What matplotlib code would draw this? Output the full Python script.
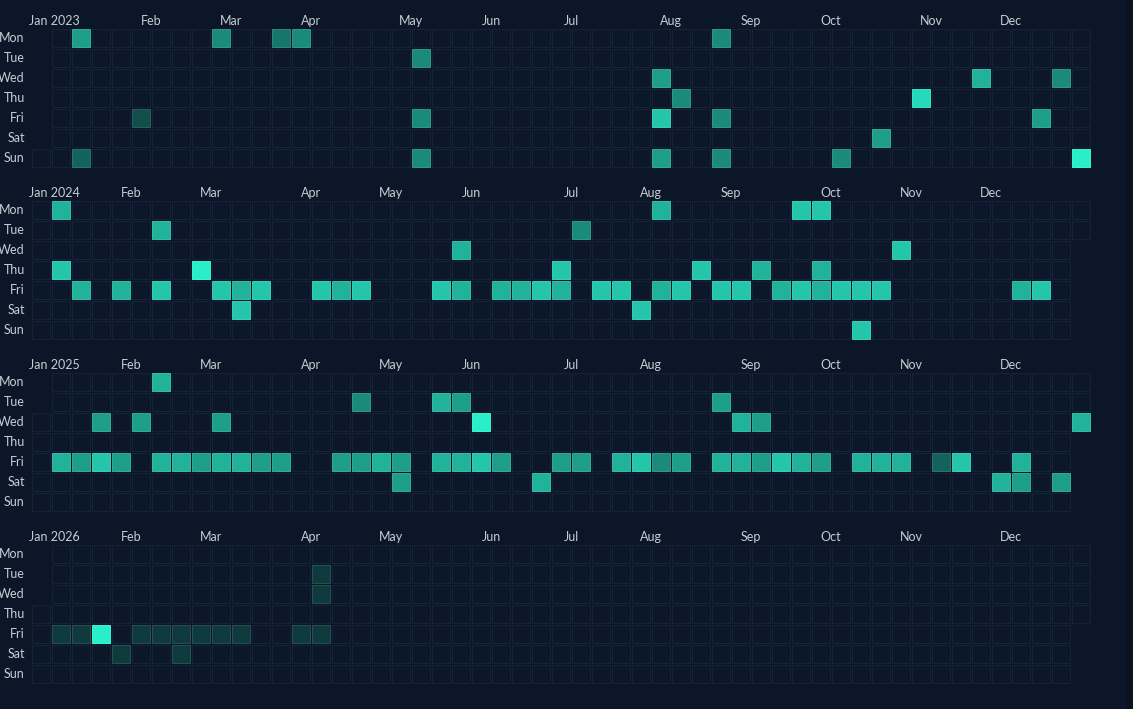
import numpy as np
import pandas as pd
import matplotlib
matplotlib.use("Agg")
import matplotlib.pyplot as plt
from matplotlib.patches import Rectangle
from matplotlib.colors import LinearSegmentedColormap

years = [2023, 2024, 2025, 2026]
day_names = ["Mon", "Tue", "Wed", "Thu", "Fri", "Sat", "Sun"]
month_names = ["Jan", "Feb", "Mar", "Apr", "May", "Jun",
               "Jul", "Aug", "Sep", "Oct", "Nov", "Dec"]

dates_2023 = ["2023-01-09", "2023-01-15", "2023-02-03", "2023-02-27", "2023-03-20",
              "2023-03-27", "2023-05-09", "2023-05-12", "2023-05-14", "2023-08-02",
              "2023-08-04", "2023-08-06", "2023-08-10", "2023-08-21", "2023-08-25",
              "2023-08-27", "2023-10-08", "2023-10-21", "2023-11-02", "2023-11-22",
              "2023-12-15", "2023-12-20", "2023-12-31"]
values_2023 = [6, 3, 2, 5, 4, 5, 5, 5, 5, 6, 8, 6, 5, 5, 5, 5, 5, 6, 9, 7, 6, 5, 10]

dates_2024 = ["2024-01-08", "2024-01-11", "2024-01-19", "2024-02-02", "2024-02-13",
              "2024-02-16", "2024-02-29", "2024-03-08", "2024-03-15", "2024-03-16",
              "2024-03-22", "2024-04-12", "2024-04-19", "2024-04-26", "2024-05-24",
              "2024-05-29", "2024-05-31", "2024-06-14", "2024-06-21", "2024-06-28",
              "2024-07-04", "2024-07-05", "2024-07-09", "2024-07-19", "2024-07-26",
              "2024-08-03", "2024-08-05", "2024-08-09", "2024-08-16", "2024-08-22",
              "2024-08-30", "2024-09-06", "2024-09-12", "2024-09-20", "2024-09-23",
              "2024-09-27", "2024-09-30", "2024-10-03", "2024-10-04", "2024-10-11",
              "2024-10-18", "2024-10-20", "2024-10-25", "2024-10-30", "2024-12-13",
              "2024-12-20"]
values_2024 = [7, 8, 7, 7, 7, 8, 10, 8, 7, 8,
               8, 8, 7, 8, 8, 7, 7, 7, 7, 8,
               8, 7, 5, 8, 8, 8, 7, 7, 8, 8,
               8, 8, 7, 7, 8, 8, 8, 7, 7, 8,
               8, 8, 8, 8, 7, 8]

dates_2025 = ["2025-01-10", "2025-01-17", "2025-01-22", "2025-01-24", "2025-01-31",
              "2025-02-05", "2025-02-10", "2025-02-14", "2025-02-21", "2025-02-28",
              "2025-03-05", "2025-03-07", "2025-03-14", "2025-03-21", "2025-03-28",
              "2025-04-18", "2025-04-22", "2025-04-25", "2025-05-02", "2025-05-09",
              "2025-05-10", "2025-05-20", "2025-05-23", "2025-05-27", "2025-05-30",
              "2025-06-04", "2025-06-06", "2025-06-13", "2025-06-28", "2025-07-04",
              "2025-07-11", "2025-07-25", "2025-08-01", "2025-08-08", "2025-08-15",
              "2025-08-26", "2025-08-29", "2025-09-03", "2025-09-05", "2025-09-10",
              "2025-09-12", "2025-09-19", "2025-09-26", "2025-10-03", "2025-10-17",
              "2025-10-24", "2025-10-31", "2025-11-14", "2025-11-21", "2025-12-06",
              "2025-12-12", "2025-12-13", "2025-12-27", "2025-12-31"]
values_2025 = [7, 6, 6, 8, 6, 6, 7, 7, 7, 6,
               6, 7, 7, 6, 6, 6, 5, 6, 7, 6,
               6, 7, 7, 6, 7, 10, 8, 6, 7, 6,
               6, 7, 8, 5, 6, 6, 7, 7, 7, 6,
               6, 8, 7, 6, 7, 7, 7, 3, 8, 7,
               7, 6, 6, 7]

dates_2026 = ["2026-01-09", "2026-01-16", "2026-01-23", "2026-01-31", "2026-02-06",
              "2026-02-13", "2026-02-20", "2026-02-21", "2026-02-27", "2026-03-06",
              "2026-03-13", "2026-04-03", "2026-04-07", "2026-04-08", "2026-04-10"]
values_2026 = [1, 1, 10, 1, 1, 1, 1, 1, 1, 1, 1, 1, 1, 1, 1]

data = {2023: (dates_2023, values_2023), 2024: (dates_2024, values_2024),
        2025: (dates_2025, values_2025), 2026: (dates_2026, values_2026)}

bg = "#0b1628"
empty_face = "#0c182a"
empty_edge = "#15233a"
text_col = "#c8ccd3"
cmap = LinearSegmentedColormap.from_list("teal", ["#0f3a3d", "#28eec9"])
vmin, vmax = 1, 10

W, H = 1133, 709
fig = plt.figure(figsize=(W / 100, H / 100), dpi=100, facecolor=bg)
ax = fig.add_axes([0, 0, 1, 1])
ax.set_facecolor(bg)
# one unit = one week column (20 px)
ax.set_xlim(-1.6, -1.6 + W / 20)
ax.set_ylim(-1.45 + H / 20, -1.45)
ax.axis("off")

font = ["Lato", "DejaVu Sans"]
fs = 9.0
block = 8.6
size = 0.9
lw = 0.72

for b, year in enumerate(years):
    y0 = b * block
    jan1 = pd.Timestamp(year, 1, 1)
    off = jan1.weekday()
    days = pd.date_range(jan1, pd.Timestamp(year, 12, 31))
    for d in days:
        col = (d.dayofyear - 1 + off) // 7
        row = d.weekday()
        ax.add_patch(Rectangle((col, y0 + row), size, size, facecolor=empty_face,
                               edgecolor=empty_edge, linewidth=lw))

    dts, vals = data[year]
    for ds, v in zip(dts, vals):
        d = pd.Timestamp(ds)
        col = (d.dayofyear - 1 + off) // 7
        row = d.weekday()
        c = np.array(cmap((v - vmin) / (vmax - vmin))[:3])
        edge = c * 0.9 + 0.1
        ax.add_patch(Rectangle((col, y0 + row), size, size, facecolor=c,
                               edgecolor=edge, linewidth=lw))

    for m in range(12):
        first = pd.Timestamp(year, m + 1, 1)
        col = (first.dayofyear - 1 + off) // 7
        label = month_names[m] + (" %d" % year if m == 0 else "")
        xpos = col + 0.95 + (0.15 if m == 0 else 0)
        ax.text(xpos, y0 - 0.42, label, ha="center", va="center",
                fontsize=fs, color=text_col, family=font)

    for r, name in enumerate(day_names):
        ax.text(-0.36, y0 + r + 0.47, name, ha="right", va="center",
                fontsize=fs, color=text_col, family=font)

# strip at the right edge of the panel
fig.patches.append(Rectangle((1126 / W, 0), 1 - 1126 / W, 1, transform=fig.transFigure,
                             facecolor="#09131f", edgecolor="none", zorder=-1))

fig.savefig("out.png", dpi=100, facecolor=bg)
